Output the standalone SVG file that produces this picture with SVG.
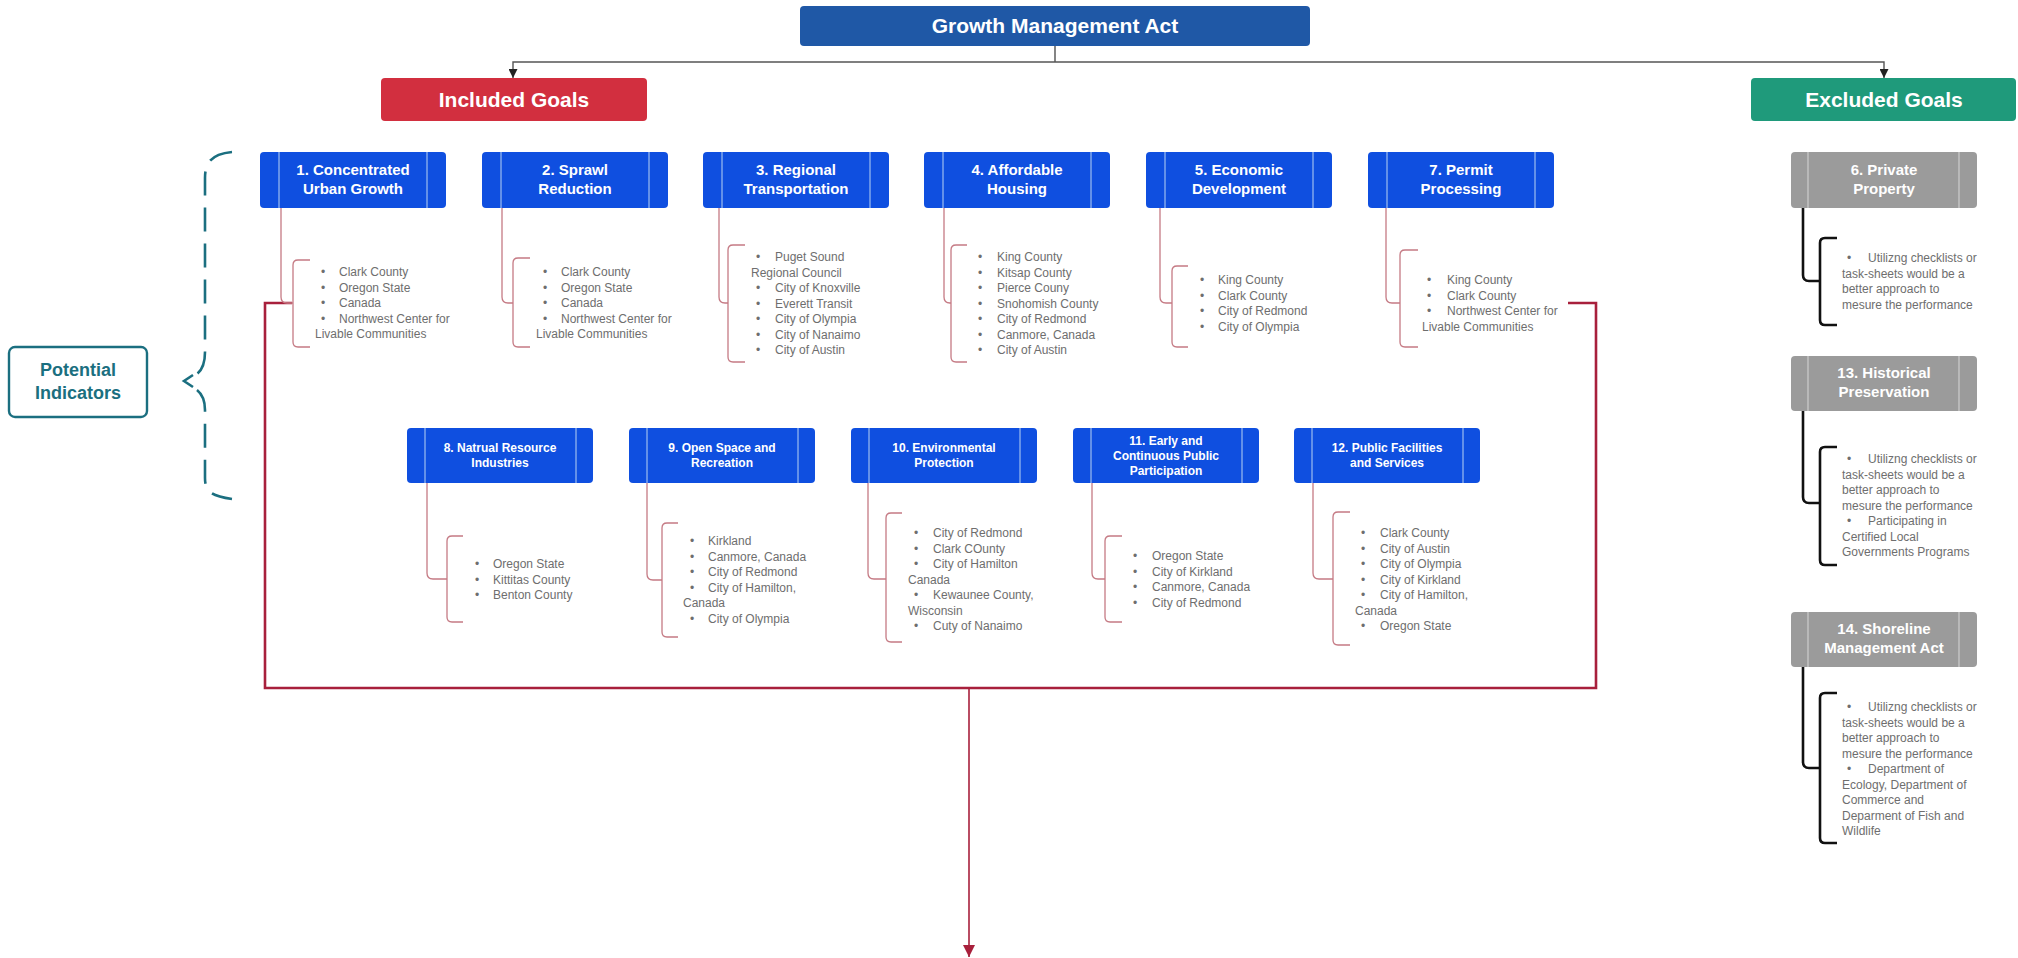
<svg xmlns="http://www.w3.org/2000/svg" width="2018" height="958" viewBox="0 0 2018 958">
  <style>
    .hdr { font-family: "Liberation Sans", Arial, sans-serif; font-weight: bold; font-size: 21px; fill: #ffffff; text-anchor: middle; }
    .gt { font-family: "Liberation Sans", Arial, sans-serif; font-weight: bold; font-size: 15px; fill: #ffffff; text-anchor: middle; }
    .gs { font-family: "Liberation Sans", Arial, sans-serif; font-weight: bold; font-size: 12px; fill: #ffffff; text-anchor: middle; }
    .li { font-family: "Liberation Sans", Arial, sans-serif; font-size: 12px; fill: #6e6e6e; }
    .goal { fill: #0f4fe0; }
    .excl { fill: #9b9b9b; }
    .inner { stroke: #b9d3f2; stroke-width: 1; }
    .innerx { stroke: #d6d6d6; stroke-width: 1; }
    .pk { fill: none; stroke: #c57a84; stroke-width: 1.3; }
    .bk { fill: none; stroke: #111111; stroke-width: 2.6; }
  </style>
  <defs>
    <marker id="ah" viewBox="0 0 10 10" refX="10" refY="5" markerWidth="9" markerHeight="9" markerUnits="userSpaceOnUse" orient="auto">
      <path d="M0,0 L10,5 L0,10 z" fill="#222222"/>
    </marker>
    <marker id="ahr" viewBox="0 0 10 10" refX="10" refY="5" markerWidth="12" markerHeight="12" markerUnits="userSpaceOnUse" orient="auto">
      <path d="M0,0 L10,5 L0,10 z" fill="#a8203c"/>
    </marker>
  </defs>
  <rect width="2018" height="958" fill="#ffffff"/>

  <!-- connectors -->
  <g id="connectors">
    <path d="M1055,46 V62" fill="none" stroke="#333" stroke-width="1.2"/>
    <path d="M1055,62 H513 V78" fill="none" stroke="#555" stroke-width="1.4" marker-end="url(#ah)"/>
    <path d="M1055,62 H1884 V78" fill="none" stroke="#555" stroke-width="1.4" marker-end="url(#ah)"/>
    <!-- frame round the included goal indicators -->
    <path d="M292,303 H265 V688 H1596 V303 H1568" fill="none" stroke="#a8203c" stroke-width="2.6"/>
    <path d="M969,688 V957" fill="none" stroke="#a8203c" stroke-width="1.6" marker-end="url(#ahr)"/>
    <!-- potential indicators brace -->
    <g fill="none" stroke="#1b6f80" stroke-width="2.6" stroke-dasharray="24 12">
      <path d="M232,152 C213,154 205,161 205,178 V352 C205,364 202,370 197,374"/>
      <path d="M197,390 C202,394 205,400 205,410 V478 C205,492 212,496 232,499"/>
    </g>
    <polyline points="193,375 184,381 193,387" fill="none" stroke="#1b6f80" stroke-width="2.6"/>
  </g>

  <!-- headers -->
  <g id="gma">
    <rect x="800" y="6" width="510" height="40" rx="4" fill="#1f58a6"/>
    <text class="hdr" x="1055" y="33">Growth Management Act</text>
  </g>
  <g id="included">
    <rect x="381" y="78" width="266" height="43" rx="4" fill="#d22f3f"/>
    <text class="hdr" x="514" y="107">Included Goals</text>
  </g>
  <g id="excluded">
    <rect x="1751" y="78" width="265" height="43" rx="4" fill="#1f9a7b"/>
    <text class="hdr" x="1884" y="107">Excluded Goals</text>
  </g>
  <g id="potential">
    <rect x="9" y="347" width="138" height="70" rx="6" fill="#ffffff" stroke="#1b6f80" stroke-width="2.4"/>
    <text x="78" y="376" font-family="Liberation Sans, Arial, sans-serif" font-weight="bold" font-size="18" fill="#1b6f80" text-anchor="middle">Potential</text>
    <text x="78" y="399" font-family="Liberation Sans, Arial, sans-serif" font-weight="bold" font-size="18" fill="#1b6f80" text-anchor="middle">Indicators</text>
  </g>

  <!-- goal 1 -->
  <g id="goal1">
    <rect class="goal" x="260" y="152" width="186" height="56" rx="4"/>
    <line class="inner" x1="279" y1="152" x2="279" y2="208"/><line class="inner" x1="427" y1="152" x2="427" y2="208"/>
    <text class="gt" x="353" y="174.5">1. Concentrated</text>
    <text class="gt" x="353" y="193.5">Urban Growth</text>
    <path class="pk" d="M281,208 V297 Q281,303 287,303 H293"/>
    <path class="pk" d="M310,260 H298 Q293,260 293,265 V342 Q293,347 298,347 H310"/>
    <text class="li" y="276"><tspan x="321">•</tspan><tspan x="339">Clark County</tspan></text>
    <text class="li" y="291.5"><tspan x="321">•</tspan><tspan x="339">Oregon State</tspan></text>
    <text class="li" y="307"><tspan x="321">•</tspan><tspan x="339">Canada</tspan></text>
    <text class="li" y="322.5"><tspan x="321">•</tspan><tspan x="339">Northwest Center for</tspan></text>
    <text class="li" x="315" y="338">Livable Communities</text>
  </g>

  <!-- goal 2 -->
  <g id="goal2">
    <rect class="goal" x="482" y="152" width="186" height="56" rx="4"/>
    <line class="inner" x1="501" y1="152" x2="501" y2="208"/><line class="inner" x1="649" y1="152" x2="649" y2="208"/>
    <text class="gt" x="575" y="174.5">2. Sprawl</text>
    <text class="gt" x="575" y="193.5">Reduction</text>
    <path class="pk" d="M502,208 V297 Q502,303 508,303 H513"/>
    <path class="pk" d="M530,258 H518 Q513,258 513,263 V342 Q513,347 518,347 H530"/>
    <text class="li" y="276"><tspan x="543">•</tspan><tspan x="561">Clark County</tspan></text>
    <text class="li" y="291.5"><tspan x="543">•</tspan><tspan x="561">Oregon State</tspan></text>
    <text class="li" y="307"><tspan x="543">•</tspan><tspan x="561">Canada</tspan></text>
    <text class="li" y="322.5"><tspan x="543">•</tspan><tspan x="561">Northwest Center for</tspan></text>
    <text class="li" x="536" y="338">Livable Communities</text>
  </g>

  <!-- goal 3 -->
  <g id="goal3">
    <rect class="goal" x="703" y="152" width="186" height="56" rx="4"/>
    <line class="inner" x1="722" y1="152" x2="722" y2="208"/><line class="inner" x1="870" y1="152" x2="870" y2="208"/>
    <text class="gt" x="796" y="174.5">3. Regional</text>
    <text class="gt" x="796" y="193.5">Transportation</text>
    <path class="pk" d="M719,208 V297 Q719,303 725,303 H728"/>
    <path class="pk" d="M745,245 H733 Q728,245 728,250 V357 Q728,362 733,362 H745"/>
    <text class="li" y="261"><tspan x="756">•</tspan><tspan x="775">Puget Sound</tspan></text>
    <text class="li" x="751" y="276.5">Regional Council</text>
    <text class="li" y="292"><tspan x="756">•</tspan><tspan x="775">City of Knoxville</tspan></text>
    <text class="li" y="307.5"><tspan x="756">•</tspan><tspan x="775">Everett Transit</tspan></text>
    <text class="li" y="323"><tspan x="756">•</tspan><tspan x="775">City of Olympia</tspan></text>
    <text class="li" y="338.5"><tspan x="756">•</tspan><tspan x="775">City of Nanaimo</tspan></text>
    <text class="li" y="354"><tspan x="756">•</tspan><tspan x="775">City of Austin</tspan></text>
  </g>

  <!-- goal 4 -->
  <g id="goal4">
    <rect class="goal" x="924" y="152" width="186" height="56" rx="4"/>
    <line class="inner" x1="943" y1="152" x2="943" y2="208"/><line class="inner" x1="1091" y1="152" x2="1091" y2="208"/>
    <text class="gt" x="1017" y="174.5">4. Affordable</text>
    <text class="gt" x="1017" y="193.5">Housing</text>
    <path class="pk" d="M944,208 V297 Q944,303 950,303 H951"/>
    <path class="pk" d="M967,245 H956 Q951,245 951,250 V357 Q951,362 956,362 H967"/>
    <text class="li" y="261"><tspan x="978">•</tspan><tspan x="997">King County</tspan></text>
    <text class="li" y="276.5"><tspan x="978">•</tspan><tspan x="997">Kitsap County</tspan></text>
    <text class="li" y="292"><tspan x="978">•</tspan><tspan x="997">Pierce Couny</tspan></text>
    <text class="li" y="307.5"><tspan x="978">•</tspan><tspan x="997">Snohomish County</tspan></text>
    <text class="li" y="323"><tspan x="978">•</tspan><tspan x="997">City of Redmond</tspan></text>
    <text class="li" y="338.5"><tspan x="978">•</tspan><tspan x="997">Canmore, Canada</tspan></text>
    <text class="li" y="354"><tspan x="978">•</tspan><tspan x="997">City of Austin</tspan></text>
  </g>

  <!-- goal 5 -->
  <g id="goal5">
    <rect class="goal" x="1146" y="152" width="186" height="56" rx="4"/>
    <line class="inner" x1="1165" y1="152" x2="1165" y2="208"/><line class="inner" x1="1313" y1="152" x2="1313" y2="208"/>
    <text class="gt" x="1239" y="174.5">5. Economic</text>
    <text class="gt" x="1239" y="193.5">Development</text>
    <path class="pk" d="M1160,208 V297 Q1160,303 1166,303 H1172"/>
    <path class="pk" d="M1188,266 H1177 Q1172,266 1172,271 V342 Q1172,347 1177,347 H1188"/>
    <text class="li" y="284"><tspan x="1200">•</tspan><tspan x="1218">King County</tspan></text>
    <text class="li" y="299.5"><tspan x="1200">•</tspan><tspan x="1218">Clark County</tspan></text>
    <text class="li" y="315"><tspan x="1200">•</tspan><tspan x="1218">City of Redmond</tspan></text>
    <text class="li" y="330.5"><tspan x="1200">•</tspan><tspan x="1218">City of Olympia</tspan></text>
  </g>

  <!-- goal 7 -->
  <g id="goal7">
    <rect class="goal" x="1368" y="152" width="186" height="56" rx="4"/>
    <line class="inner" x1="1387" y1="152" x2="1387" y2="208"/><line class="inner" x1="1535" y1="152" x2="1535" y2="208"/>
    <text class="gt" x="1461" y="174.5">7. Permit</text>
    <text class="gt" x="1461" y="193.5">Processing</text>
    <path class="pk" d="M1386,208 V297 Q1386,303 1392,303 H1400"/>
    <path class="pk" d="M1418,250 H1405 Q1400,250 1400,255 V342 Q1400,347 1405,347 H1418"/>
    <text class="li" y="284"><tspan x="1427">•</tspan><tspan x="1447">King County</tspan></text>
    <text class="li" y="299.5"><tspan x="1427">•</tspan><tspan x="1447">Clark County</tspan></text>
    <text class="li" y="315"><tspan x="1427">•</tspan><tspan x="1447">Northwest Center for</tspan></text>
    <text class="li" x="1422" y="330.5">Livable Communities</text>
  </g>

  <!-- goal 8 -->
  <g id="goal8">
    <rect class="goal" x="407" y="428" width="186" height="55" rx="4"/>
    <line class="inner" x1="425" y1="428" x2="425" y2="483"/><line class="inner" x1="576" y1="428" x2="576" y2="483"/>
    <text class="gs" x="500" y="452">8. Natrual Resource</text>
    <text class="gs" x="500" y="467">Industries</text>
    <path class="pk" d="M427,483 V573 Q427,579 433,579 H447"/>
    <path class="pk" d="M463,536 H452 Q447,536 447,541 V617 Q447,622 452,622 H463"/>
    <text class="li" y="568"><tspan x="475">•</tspan><tspan x="493">Oregon State</tspan></text>
    <text class="li" y="583.5"><tspan x="475">•</tspan><tspan x="493">Kittitas County</tspan></text>
    <text class="li" y="599"><tspan x="475">•</tspan><tspan x="493">Benton County</tspan></text>
  </g>

  <!-- goal 9 -->
  <g id="goal9">
    <rect class="goal" x="629" y="428" width="186" height="55" rx="4"/>
    <line class="inner" x1="647" y1="428" x2="647" y2="483"/><line class="inner" x1="798" y1="428" x2="798" y2="483"/>
    <text class="gs" x="722" y="452">9. Open Space and</text>
    <text class="gs" x="722" y="467">Recreation</text>
    <path class="pk" d="M647,483 V574 Q647,580 653,580 H662"/>
    <path class="pk" d="M678,523 H667 Q662,523 662,528 V632 Q662,637 667,637 H678"/>
    <text class="li" y="545"><tspan x="690">•</tspan><tspan x="708">Kirkland</tspan></text>
    <text class="li" y="560.5"><tspan x="690">•</tspan><tspan x="708">Canmore, Canada</tspan></text>
    <text class="li" y="576"><tspan x="690">•</tspan><tspan x="708">City of Redmond</tspan></text>
    <text class="li" y="591.5"><tspan x="690">•</tspan><tspan x="708">City of Hamilton,</tspan></text>
    <text class="li" x="683" y="607">Canada</text>
    <text class="li" y="622.5"><tspan x="690">•</tspan><tspan x="708">City of Olympia</tspan></text>
  </g>

  <!-- goal 10 -->
  <g id="goal10">
    <rect class="goal" x="851" y="428" width="186" height="55" rx="4"/>
    <line class="inner" x1="869" y1="428" x2="869" y2="483"/><line class="inner" x1="1020" y1="428" x2="1020" y2="483"/>
    <text class="gs" x="944" y="452">10. Environmental</text>
    <text class="gs" x="944" y="467">Protection</text>
    <path class="pk" d="M868,483 V573 Q868,579 874,579 H886"/>
    <path class="pk" d="M902,513 H891 Q886,513 886,518 V637 Q886,642 891,642 H902"/>
    <text class="li" y="537"><tspan x="914">•</tspan><tspan x="933">City of Redmond</tspan></text>
    <text class="li" y="552.5"><tspan x="914">•</tspan><tspan x="933">Clark COunty</tspan></text>
    <text class="li" y="568"><tspan x="914">•</tspan><tspan x="933">City of Hamilton</tspan></text>
    <text class="li" x="908" y="583.5">Canada</text>
    <text class="li" y="599"><tspan x="914">•</tspan><tspan x="933">Kewaunee County,</tspan></text>
    <text class="li" x="908" y="614.5">Wisconsin</text>
    <text class="li" y="630"><tspan x="914">•</tspan><tspan x="933">Cuty of Nanaimo</tspan></text>
  </g>

  <!-- goal 11 -->
  <g id="goal11">
    <rect class="goal" x="1073" y="428" width="186" height="55" rx="4"/>
    <line class="inner" x1="1091" y1="428" x2="1091" y2="483"/><line class="inner" x1="1242" y1="428" x2="1242" y2="483"/>
    <text class="gs" x="1166" y="445">11. Early and</text>
    <text class="gs" x="1166" y="460">Continuous Public</text>
    <text class="gs" x="1166" y="475">Participation</text>
    <path class="pk" d="M1092,483 V573 Q1092,579 1098,579 H1105"/>
    <path class="pk" d="M1122,536 H1110 Q1105,536 1105,541 V617 Q1105,622 1110,622 H1122"/>
    <text class="li" y="560"><tspan x="1133">•</tspan><tspan x="1152">Oregon State</tspan></text>
    <text class="li" y="575.5"><tspan x="1133">•</tspan><tspan x="1152">City of Kirkland</tspan></text>
    <text class="li" y="591"><tspan x="1133">•</tspan><tspan x="1152">Canmore, Canada</tspan></text>
    <text class="li" y="606.5"><tspan x="1133">•</tspan><tspan x="1152">City of Redmond</tspan></text>
  </g>

  <!-- goal 12 -->
  <g id="goal12">
    <rect class="goal" x="1294" y="428" width="186" height="55" rx="4"/>
    <line class="inner" x1="1312" y1="428" x2="1312" y2="483"/><line class="inner" x1="1463" y1="428" x2="1463" y2="483"/>
    <text class="gs" x="1387" y="452">12. Public Facilities</text>
    <text class="gs" x="1387" y="467">and Services</text>
    <path class="pk" d="M1313,483 V573 Q1313,579 1319,579 H1333"/>
    <path class="pk" d="M1350,512 H1338 Q1333,512 1333,517 V640 Q1333,645 1338,645 H1350"/>
    <text class="li" y="537"><tspan x="1361">•</tspan><tspan x="1380">Clark County</tspan></text>
    <text class="li" y="552.5"><tspan x="1361">•</tspan><tspan x="1380">City of Austin</tspan></text>
    <text class="li" y="568"><tspan x="1361">•</tspan><tspan x="1380">City of Olympia</tspan></text>
    <text class="li" y="583.5"><tspan x="1361">•</tspan><tspan x="1380">City of Kirkland</tspan></text>
    <text class="li" y="599"><tspan x="1361">•</tspan><tspan x="1380">City of Hamilton,</tspan></text>
    <text class="li" x="1355" y="614.5">Canada</text>
    <text class="li" y="630"><tspan x="1361">•</tspan><tspan x="1380">Oregon State</tspan></text>
  </g>

  <!-- excluded goal 6 -->
  <g id="goal6">
    <rect class="excl" x="1791" y="152" width="186" height="56" rx="4"/>
    <line class="innerx" x1="1808" y1="152" x2="1808" y2="208"/><line class="innerx" x1="1959" y1="152" x2="1959" y2="208"/>
    <text class="gt" x="1884" y="175">6. Private</text>
    <text class="gt" x="1884" y="194">Property</text>
    <path class="bk" d="M1803,208 V275 Q1803,281 1809,281 H1820"/>
    <path class="bk" d="M1837,238 H1825 Q1820,238 1820,243 V320 Q1820,325 1825,325 H1837"/>
    <text class="li" y="262"><tspan x="1847">•</tspan><tspan x="1868">Utilizng checklists or</tspan></text>
    <text class="li" x="1842" y="277.5">task-sheets would be a</text>
    <text class="li" x="1842" y="293">better approach to</text>
    <text class="li" x="1842" y="308.5">mesure the performance</text>
  </g>

  <!-- excluded goal 13 -->
  <g id="goal13">
    <rect class="excl" x="1791" y="356" width="186" height="55" rx="4"/>
    <line class="innerx" x1="1808" y1="356" x2="1808" y2="411"/><line class="innerx" x1="1959" y1="356" x2="1959" y2="411"/>
    <text class="gt" x="1884" y="378">13. Historical</text>
    <text class="gt" x="1884" y="397">Preservation</text>
    <path class="bk" d="M1803,411 V497 Q1803,503 1809,503 H1820"/>
    <path class="bk" d="M1837,447 H1825 Q1820,447 1820,452 V560 Q1820,565 1825,565 H1837"/>
    <text class="li" y="463"><tspan x="1847">•</tspan><tspan x="1868">Utilizng checklists or</tspan></text>
    <text class="li" x="1842" y="478.5">task-sheets would be a</text>
    <text class="li" x="1842" y="494">better approach to</text>
    <text class="li" x="1842" y="509.5">mesure the performance</text>
    <text class="li" y="525"><tspan x="1847">•</tspan><tspan x="1868">Participating in</tspan></text>
    <text class="li" x="1842" y="540.5">Certified Local</text>
    <text class="li" x="1842" y="556">Governments Programs</text>
  </g>

  <!-- excluded goal 14 -->
  <g id="goal14">
    <rect class="excl" x="1791" y="612" width="186" height="55" rx="4"/>
    <line class="innerx" x1="1808" y1="612" x2="1808" y2="667"/><line class="innerx" x1="1959" y1="612" x2="1959" y2="667"/>
    <text class="gt" x="1884" y="634">14. Shoreline</text>
    <text class="gt" x="1884" y="653">Management Act</text>
    <path class="bk" d="M1803,667 V762 Q1803,768 1809,768 H1820"/>
    <path class="bk" d="M1837,693 H1825 Q1820,693 1820,698 V838 Q1820,843 1825,843 H1837"/>
    <text class="li" y="711"><tspan x="1847">•</tspan><tspan x="1868">Utilizng checklists or</tspan></text>
    <text class="li" x="1842" y="726.5">task-sheets would be a</text>
    <text class="li" x="1842" y="742">better approach to</text>
    <text class="li" x="1842" y="757.5">mesure the performance</text>
    <text class="li" y="773"><tspan x="1847">•</tspan><tspan x="1868">Department of</tspan></text>
    <text class="li" x="1842" y="788.5">Ecology, Department of</text>
    <text class="li" x="1842" y="804">Commerce and</text>
    <text class="li" x="1842" y="819.5">Deparment of Fish and</text>
    <text class="li" x="1842" y="835">Wildlife</text>
  </g>
</svg>
